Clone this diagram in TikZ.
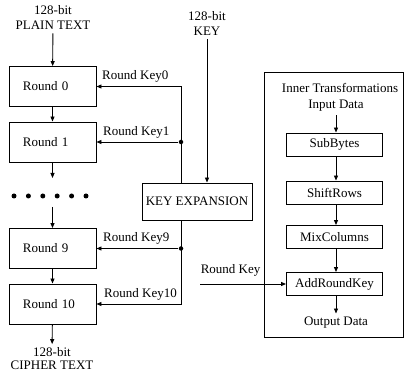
\documentclass[tikz,border=0pt]{standalone}
\usepackage{fontspec}
\setmainfont{Liberation Serif}
\usetikzlibrary{arrows.meta, positioning, calc}

\begin{document}
\begin{tikzpicture}[
    x=1pt, y=-1pt,
    line width=0.9pt,
    >={Triangle[length=5pt, width=4pt]},
    every node/.style={font=\fontsize{13}{15}\selectfont},
    roundbox/.style={draw, minimum height=40pt, text width=59pt, inner xsep=14pt, align=left},
    stepbox/.style={draw, minimum width=96pt, minimum height=23pt},
    junction/.style={circle, fill, inner sep=0pt, minimum size=4.5pt},
    dot/.style={circle, fill, inner sep=0pt, minimum size=5pt},
]
\useasboundingbox (0,0) rectangle (405,374);

% =========================================================
% 1. Cipher rounds
% =========================================================
\node[align=center] (plain) at (53,17.5) {128-bit\\PLAIN TEXT};

\node[roundbox] (r0) at (52.5,86.5) {Round 0};
\node[roundbox] (r1) at (52.5,142) {Round 1};
\node[roundbox] (r9) at (52.5,248.5) {Round 9};
\node[roundbox] (r10) at (52.5,304) {Round 10};

% Row of dots between Round 1 and Round 9
\foreach \i in {0,...,5}
    \node[dot] (d\i) at (14+14.4*\i,196) {};
\coordinate (c1) at (52.5,178);
\coordinate (c9) at (52.5,207);

\node[align=center, font=\fontsize{13}{13}\selectfont] (cipher) at (52,359) {128-bit\\CIPHER TEXT};

\draw[->] (plain) -- (r0);
\draw[->] (r0) -- (r1);
\draw[->] (r1) -- (c1);
\draw[->] (c9) -- (r9);
\draw[->] (r9) -- (r10);
\draw[->] (r10) -- (cipher);

% =========================================================
% 2. Key expansion and round keys
% =========================================================
\node[align=center] (key) at (207,23.5) {128-bit\\KEY};
\node[draw, minimum width=110pt, minimum height=37pt] (keyexp) at (197,201.5) {KEY EXPANSION};
\coordinate (bus) at (181,0);

\draw[->] (key.south) -- (key.south |- keyexp.north);

% Upper bus: Round Key0 and Round Key1
\draw[->] (bus |- keyexp.north) |- (r0.east);
\node[junction] (j1) at (bus |- r1.east) {};
\draw[->] (j1) -- (r1.east);

% Lower bus: Round Key9 and Round Key10
\draw[->] (bus |- keyexp.south) |- (r10.east);
\node[junction] (j9) at (bus |- r9.east) {};
\draw[->] (j9) -- (r9.east);

% Round key labels
\node[anchor=south west] (lk0) at ([xshift=2pt]r0.east) {Round Key0};
\node[anchor=south west] (lk1) at ([xshift=3pt]r1.east) {Round Key1};
\node[anchor=south west] (lk9) at ([xshift=3pt]r9.east) {Round Key9};
\node[anchor=south west] (lk10) at ([xshift=4pt]r10.east) {Round Key10};

% =========================================================
% 3. Inner transformations
% =========================================================
\node[draw, minimum width=139pt, minimum height=265pt] (inner) at (333.5,204.5) {};
\node (title) at (340,88) {Inner Transformations};
\node (indata) at (336,106) {Input Data};

\node[stepbox] (sub) at (334.5,144.5) {SubBytes};
\node[stepbox] (shift) at (334.5,192.5) {ShiftRows};
\node[stepbox] (mix) at (334.5,237) {MixColumns};
\node[stepbox] (add) at (334.5,284) {AddRoundKey};
\node (outdata) at (336,323) {Output Data};

\draw[->] (indata) -- (indata |- sub.north);
\draw[->] (sub.south -| indata) -- (indata |- shift.north);
\draw[->] (shift.south -| indata) -- (indata |- mix.north);
\draw[->] (mix.south -| indata) -- (indata |- add.north);
\draw[->] (add.south -| indata) -- (outdata);

% Round Key into AddRoundKey
\coordinate (rkin) at (200,284);
\draw[->] (rkin) -- (add.west);
\node[anchor=south west] (rklabel) at ([xshift=-3pt, yshift=4pt]rkin) {Round Key};

\end{tikzpicture}
\end{document}
